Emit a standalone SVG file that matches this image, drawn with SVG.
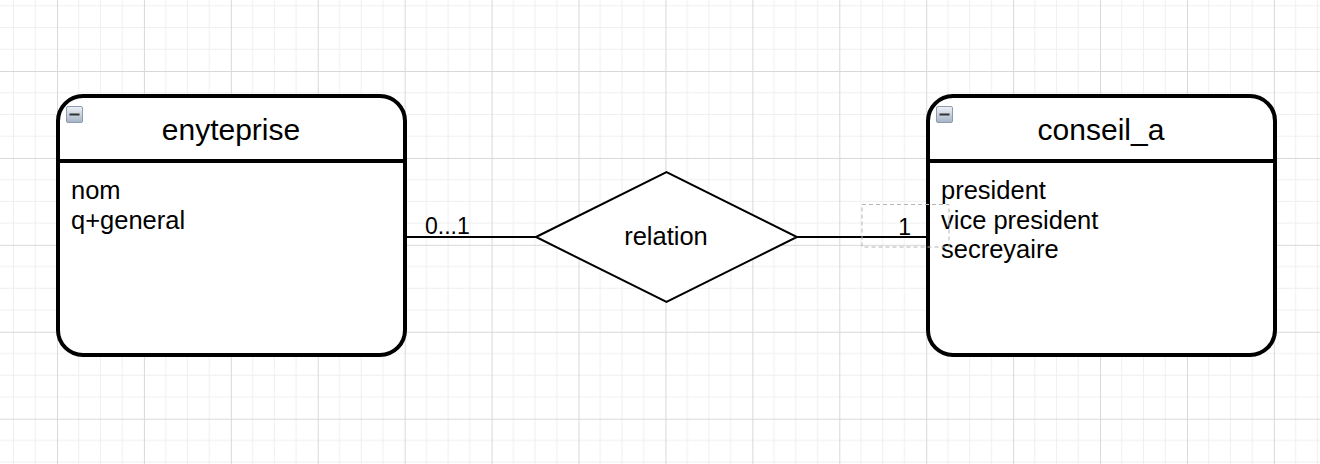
<svg xmlns="http://www.w3.org/2000/svg" width="1320" height="464" viewBox="0 0 1320 464">
<defs>
<pattern id="grid" patternUnits="userSpaceOnUse" x="57" y="71" width="86.92" height="86.92">
<path d="M21.73 0V86.92M43.46 0V86.92M65.19 0V86.92M0 21.73H86.92M0 43.46H86.92M0 65.19H86.92" stroke="#efefef" stroke-width="1" fill="none"/>
<path d="M0.5 0V86.92M0 0.5H86.92" stroke="#d8d8d8" stroke-width="1" fill="none"/>
</pattern>
<linearGradient id="ig" x1="0" y1="0" x2="0" y2="1">
<stop offset="0" stop-color="#eef2f7"/>
<stop offset="1" stop-color="#a4b3c5"/>
</linearGradient>
<g id="icon">
<rect x="0.5" y="0.5" width="16" height="16" rx="1.5" fill="url(#ig)" stroke="#8e9cae" stroke-width="1"/>
<rect x="3.5" y="7.5" width="10" height="2" fill="#333"/>
</g>
</defs>
<style>
.ent{fill:#fff;stroke:#000;stroke-width:4}
.sep{stroke:#000;stroke-width:4}
.title{font-family:"Liberation Sans",Arial,sans-serif;font-size:30px;fill:#000;text-anchor:middle}
.attr{font-family:"Liberation Sans",Arial,sans-serif;font-size:25.5px;fill:#000}
.lbl{font-family:"Liberation Sans",Arial,sans-serif;font-size:23px;fill:#000}
.edge{stroke:#000;stroke-width:2;fill:none}
</style>
<rect width="1320" height="464" fill="#fff"/>
<rect width="1320" height="464" fill="url(#grid)"/>
<g id="enyteprise">
<rect class="ent" x="58" y="96" width="347" height="259" rx="25" ry="25"/>
<path class="sep" d="M58 161H405"/>
<use href="#icon" x="66" y="106"/>
<text class="title" x="231" y="140">enyteprise</text>
<text class="attr" x="71" y="199">nom</text>
<text class="attr" x="71" y="229">q+general</text>
</g>
<g id="relation">
<polygon points="536,237 666.5,172 797,237 666.5,302" fill="#fff" stroke="#000" stroke-width="2"/>
<text class="attr" x="666" y="245" text-anchor="middle">relation</text>
</g>
<g id="conseil_a">
<rect class="ent" x="928" y="96" width="347" height="259" rx="25" ry="25"/>
<path class="sep" d="M928 161H1275"/>
<use href="#icon" x="936" y="106"/>
<text class="title" x="1101" y="140">conseil_a</text>
<text class="attr" x="941" y="199">president</text>
<text class="attr" x="941" y="229">vice president</text>
<text class="attr" x="941" y="258">secreyaire</text>
</g>
<g id="connectors">
<path class="edge" d="M406 237H536"/>
<path class="edge" d="M797 237H926"/>
<text class="lbl" x="425" y="234">0...1</text>
<rect x="862" y="204.5" width="87" height="42.5" fill="none" stroke="#b5b5b5" stroke-width="1" stroke-dasharray="4 3"/>
<text class="lbl" x="911" y="234.5" text-anchor="end">1</text>
</g>
</svg>
